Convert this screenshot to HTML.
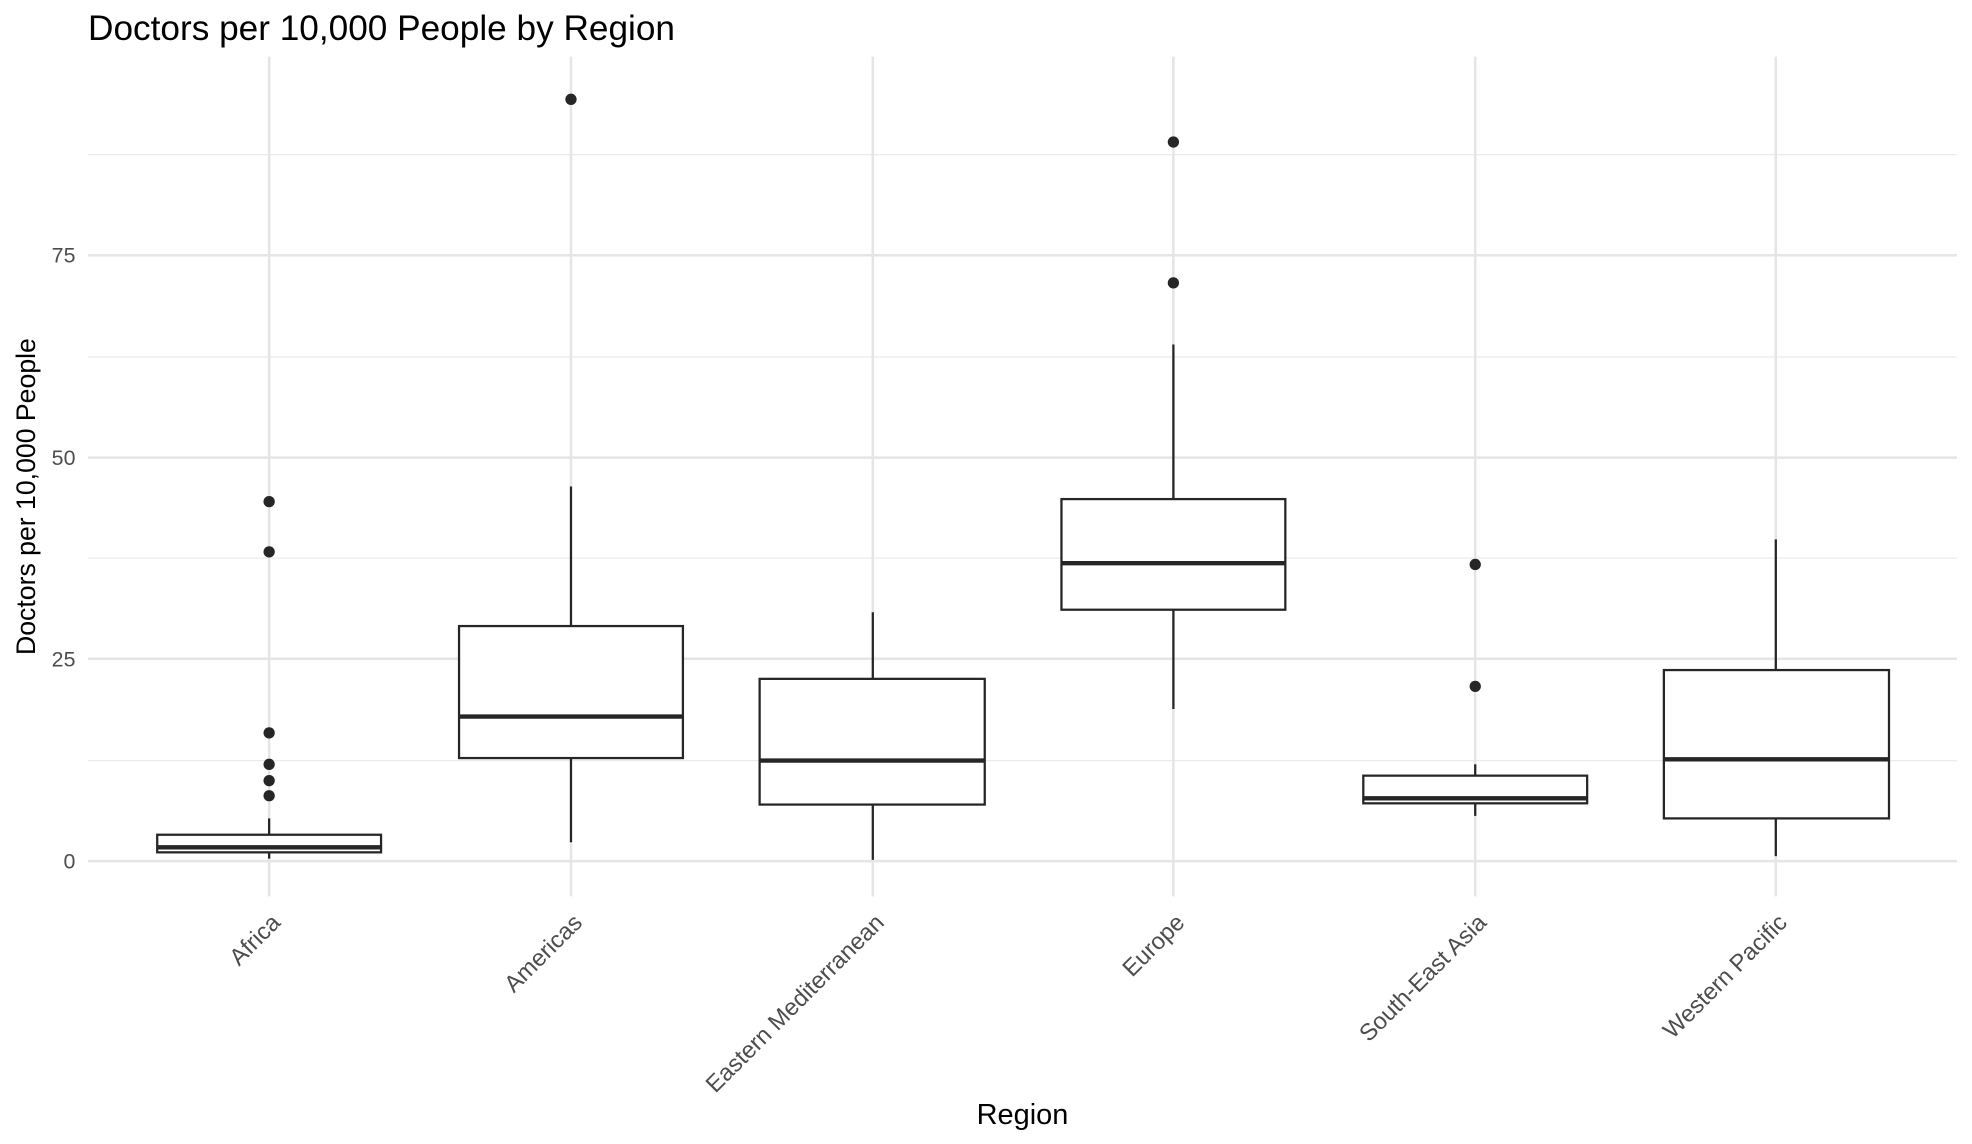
<!DOCTYPE html>
<html><head><meta charset="utf-8"><style>html,body{margin:0;padding:0;background:#fff}svg{display:block}</style></head>
<body>
<svg width="1972" height="1144" viewBox="0 0 1568 910" preserveAspectRatio="none" xmlns="http://www.w3.org/2000/svg" font-family="Liberation Sans, Arial, sans-serif">
<rect width="1568" height="910" fill="#fff"/>
<g stroke="#ebebeb" stroke-width="1">
<line x1="70" x2="1556" y1="605" y2="605"/><line x1="70" x2="1556" y1="444" y2="444"/>
<line x1="70" x2="1556" y1="284" y2="284"/><line x1="70" x2="1556" y1="123" y2="123"/>
</g>
<g stroke="#e5e5e5" stroke-width="2">
<line x1="70" x2="1556" y1="685" y2="685"/><line x1="70" x2="1556" y1="524" y2="524"/>
<line x1="70" x2="1556" y1="364" y2="364"/><line x1="70" x2="1556" y1="203" y2="203"/>
<line x1="214" x2="214" y1="45" y2="713"/><line x1="454" x2="454" y1="45" y2="713"/>
<line x1="694" x2="694" y1="45" y2="713"/><line x1="933" x2="933" y1="45" y2="713"/>
<line x1="1173" x2="1173" y1="45" y2="713"/><line x1="1412" x2="1412" y1="45" y2="713"/>
</g>
<g stroke="#262626" stroke-width="1.8" fill="#fff">
<line x1="214" x2="214" y1="651" y2="683"/><rect x="125" y="664" width="178" height="14"/><line x1="125" x2="303" y1="674" y2="674" stroke-width="3.5"/>
<line x1="454" x2="454" y1="387" y2="670"/><rect x="365" y="498" width="178" height="105"/><line x1="365" x2="543" y1="570" y2="570" stroke-width="3.5"/>
<line x1="694" x2="694" y1="487" y2="684"/><rect x="604" y="540" width="179" height="100"/><line x1="604" x2="783" y1="605" y2="605" stroke-width="3.5"/>
<line x1="933" x2="933" y1="274" y2="564"/><rect x="844" y="397" width="178" height="88"/><line x1="844" x2="1022" y1="448" y2="448" stroke-width="3.5"/>
<line x1="1173" x2="1173" y1="608" y2="649"/><rect x="1084" y="617" width="178" height="22"/><line x1="1084" x2="1262" y1="635" y2="635" stroke-width="3.5"/>
<line x1="1412" x2="1412" y1="429" y2="681"/><rect x="1323" y="533" width="179" height="118"/><line x1="1323" x2="1502" y1="604" y2="604" stroke-width="3.5"/>
</g>
<g fill="#262626">
<circle cx="214" cy="399" r="4.5"/><circle cx="214" cy="439" r="4.5"/><circle cx="214" cy="583" r="4.5"/><circle cx="214" cy="608" r="4.5"/><circle cx="214" cy="621" r="4.5"/><circle cx="214" cy="633" r="4.5"/>
<circle cx="454" cy="79" r="4.5"/><circle cx="933" cy="113" r="4.5"/><circle cx="933" cy="225" r="4.5"/>
<circle cx="1173" cy="449" r="4.5"/><circle cx="1173" cy="546" r="4.5"/>
</g>
<g fill="#4d4d4d" font-size="17" text-anchor="end">
<text x="60" y="691">0</text><text x="60" y="530">25</text><text x="60" y="370">50</text><text x="60" y="209">75</text>
</g>
<g fill="#4d4d4d" font-size="18.8" text-anchor="end">
<text transform="translate(224,735) rotate(-45)">Africa</text>
<text transform="translate(464,735) rotate(-45)">Americas</text>
<text transform="translate(704,735) rotate(-45)">Eastern Mediterranean</text>
<text transform="translate(943,735) rotate(-45)">Europe</text>
<text transform="translate(1183,735) rotate(-45)">South-East Asia</text>
<text transform="translate(1422,735) rotate(-45)">Western Pacific</text>
</g>
<text x="813" y="894" font-size="23" text-anchor="middle" fill="#000">Region</text>
<text transform="translate(28,395) rotate(-90)" font-size="21.2" text-anchor="middle" fill="#000">Doctors per 10,000 People</text>
<text x="70" y="32" font-size="28" fill="#000">Doctors per 10,000 People by Region</text>
</svg>
</body></html>
